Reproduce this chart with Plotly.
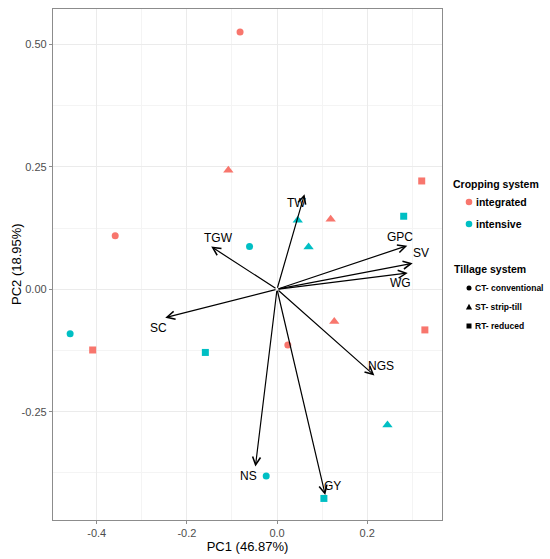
import plotly.graph_objects as go

# Sample scores (PC1, PC2)
crop = ["integrated"] * 9 + ["intensive"] * 9
tillage = ["CT", "CT", "CT", "ST", "ST", "ST", "RT", "RT", "RT"] * 2
pc1 = [-0.082, -0.359, 0.024, -0.108, 0.119, 0.127, 0.321, 0.328, -0.409,
       -0.061, -0.459, -0.024, 0.046, 0.070, 0.245, 0.281, -0.159, 0.104]
pc2 = [0.525, 0.109, -0.114, 0.243, 0.143, -0.066, 0.221, -0.083, -0.124,
       0.087, -0.091, -0.381, 0.141, 0.086, -0.277, 0.149, -0.129, -0.427]

# Variable loadings (arrow tips) and label positions
var_names = ["TW", "TGW", "GPC", "SV", "WG", "SC", "NGS", "NS", "GY"]
load1 = [0.061, -0.146, 0.289, 0.301, 0.290, -0.248, 0.216, -0.048, 0.107]
load2 = [0.194, 0.087, 0.089, 0.053, 0.033, -0.058, -0.176, -0.362, -0.420]
lab1 = [0.044, -0.130, 0.272, 0.320, 0.274, -0.264, 0.231, -0.063, 0.122]
lab2 = [0.177, 0.105, 0.106, 0.073, 0.012, -0.080, -0.157, -0.382, -0.401]

crop_levels = ["integrated", "intensive"]
till_levels = ["CT", "ST", "RT"]
till_labels = ["CT- conventional", "ST- strip-till", "RT- reduced"]

COLORS = {"integrated": "#F8766D", "intensive": "#00BFC4"}
SYMBOLS = {"CT": "circle", "ST": "triangle-up", "RT": "square"}
SIZES = {"CT": 7, "ST": 9, "RT": 7}
FONT = "Liberation Sans"

W, H = 550, 559
M = {"l": 53, "r": 108, "t": 9, "b": 39}


def px_to_paper(px, py):
    # figure pixels -> paper coords, used for the hand-made legend
    x = (px - M["l"]) / (W - M["l"] - M["r"])
    y = (H - M["b"] - py) / (H - M["t"] - M["b"])
    return x, y


def legend_marker(fig, px, py, kind, color, r):
    x, y = px_to_paper(px, py)
    common = dict(xref="paper", yref="paper", xsizemode="pixel", ysizemode="pixel",
                  xanchor=x, yanchor=y, fillcolor=color, line={"width": 0})
    if kind == "circle":
        fig.add_shape(type="circle", x0=-r, x1=r, y0=-r, y1=r, **common)
    elif kind == "square":
        fig.add_shape(type="rect", x0=-r, x1=r, y0=-r, y1=r, **common)
    else:
        fig.add_shape(type="path", path=f"M {-r - 0.6},{-r} L {r + 0.6},{-r} L 0,{r + 0.8} Z",
                      **common)


def legend_text(fig, px, py, text, size, angle=0, anchor="left"):
    x, y = px_to_paper(px, py)
    fig.add_annotation(x=x, y=y, xref="paper", yref="paper", text=text,
                       showarrow=False, xanchor=anchor, yanchor="middle",
                       textangle=angle,
                       font={"family": FONT, "size": size, "color": "black"})


fig = go.Figure()

for c in crop_levels:
    for t in till_levels:
        idx = [i for i in range(len(pc1)) if crop[i] == c and tillage[i] == t]
        fig.add_trace(go.Scatter(
            x=[pc1[i] for i in idx],
            y=[pc2[i] for i in idx],
            mode="markers",
            marker={"color": COLORS[c], "symbol": SYMBOLS[t], "size": SIZES[t]},
            showlegend=False,
            hoverinfo="skip",
        ))

# Loading arrows and labels
for name, x, y, lx, ly in zip(var_names, load1, load2, lab1, lab2):
    fig.add_annotation(
        x=x, y=y, ax=0, ay=0,
        xref="x", yref="y", axref="x", ayref="y",
        showarrow=True, arrowhead=5, arrowsize=1.3, arrowwidth=1.2,
        arrowcolor="black", text="",
    )
    fig.add_annotation(
        x=lx, y=ly, text=name, showarrow=False,
        font={"family": FONT, "size": 12, "color": "black"},
    )

# Legends (drawn by hand so the spacing matches ggplot's)
legend_text(fig, 451, 184, "<b>Cropping system</b>", 10.5)
for i, c in enumerate(crop_levels):
    py = 202 + 22 * i
    legend_marker(fig, 469, py, "circle", COLORS[c], 3.3)
    legend_text(fig, 474, py, f"<b>{c}</b>", 10.5)

legend_text(fig, 452, 269, "<b>Tillage system</b>", 10.5)
for i, (t, lbl) in enumerate(zip(till_levels, till_labels)):
    py = 288 + 19 * i
    legend_marker(fig, 469, py, SYMBOLS[t].split("-")[0], "black", 2.5)
    legend_text(fig, 473, py, f"<b>{lbl}</b>", 8.5)

# y title as annotation: ggplot puts it closer to the tick labels
legend_text(fig, 16, 264, "PC2 (18.95%)", 13, angle=-90, anchor="center")

axis_common = dict(
    showline=True, mirror=True, linecolor="#8c8c8c", linewidth=1.3,
    showgrid=True, gridcolor="#ebebeb", gridwidth=1,
    zeroline=False, ticks="outside", ticklen=3, tickcolor="#8c8c8c",
    tickfont={"family": FONT, "size": 11, "color": "#4d4d4d"},
    automargin=False,
)

fig.update_layout(
    width=W, height=H,
    margin={**M, "autoexpand": False},
    paper_bgcolor="white", plot_bgcolor="white",
    font={"family": FONT, "color": "black"},
    showlegend=False,
    xaxis=dict(
        axis_common, range=[-0.497, 0.366],
        tickvals=[-0.4, -0.2, 0.0, 0.2], ticktext=["-0.4", "-0.2", "0.0", "0.2"],
        minor={"tickvals": [-0.3, -0.1, 0.1, 0.3], "showgrid": True,
               "gridcolor": "#f4f4f4", "ticks": ""},
        title={"text": "PC1 (46.87%)", "font": {"family": FONT, "size": 13},
               "standoff": 2},
    ),
    yaxis=dict(
        axis_common, range=[-0.471, 0.572],
        tickvals=[-0.25, 0.0, 0.25, 0.5], ticktext=["-0.25", "0.00", "0.25", "0.50"],
        minor={"tickvals": [-0.375, -0.125, 0.125, 0.375], "showgrid": True,
               "gridcolor": "#f4f4f4", "ticks": ""},
    ),
)

fig.write_html("out.html", config={"displayModeBar": False},
               post_script="document.body.style.margin='0';")
